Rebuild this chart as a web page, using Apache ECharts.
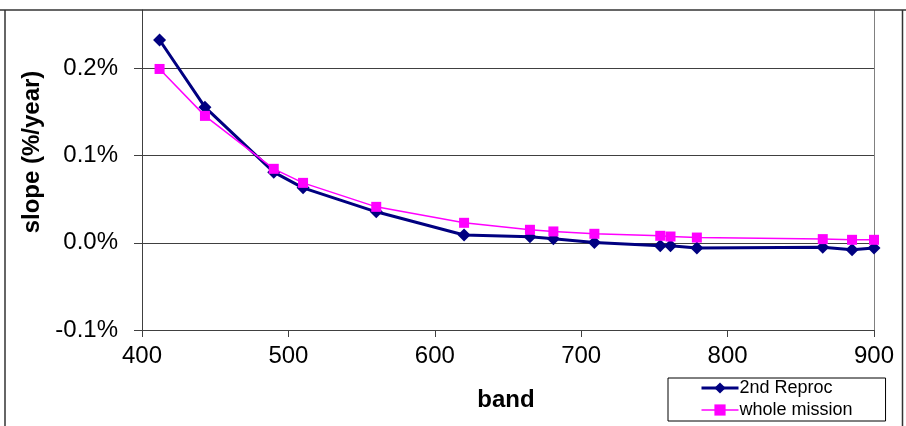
<!DOCTYPE html>
<html>
<head>
<meta charset="utf-8">
<script src="https://cdn.jsdelivr.net/npm/echarts@6/dist/echarts.min.js"></script>
<style>
html, body { margin: 0; padding: 0; background: #fff; }
#chart { width: 906px; height: 426px; }
</style>
</head>
<body>
<div id="chart"></div>
<script>
// MERIS bands (nm)
var bands = [412, 443, 490, 510, 560, 620, 665, 681, 709, 754, 761, 779, 865, 885, 900];
// slope in %/year
var reproc = [0.2325, 0.1555, 0.081, 0.063, 0.0355, 0.009, 0.007, 0.0046, 0.0003, -0.0034, -0.0034, -0.006, -0.005, -0.008, -0.006];
var mission = [0.1993, 0.1455, 0.0848, 0.0687, 0.0412, 0.0229, 0.0149, 0.013, 0.0103, 0.008, 0.0072, 0.006, 0.0042, 0.0034, 0.0034];
var yTicks = [-0.1, 0, 0.1, 0.2];
var xTicks = [400, 500, 600, 700, 800, 900];

function pairs(xs, ys) {
	var out = [];
	for (var i = 0; i < xs.length; i++) {
		out.push([xs[i], ys[i]]);
	}
	return out;
}

var font = '"Liberation Sans", Arial, sans-serif';
var chart = echarts.init(document.getElementById('chart'));

var option = {
	backgroundColor: '#ffffff',
	animation: false,
	textStyle: { fontFamily: font },
	grid: { left: 142, right: 32, top: 10, bottom: 96 },
	legend: {
		orient: 'vertical',
		left: 668,
		top: 378,
		padding: [1, 33, 2, 32],
		itemGap: 4,
		itemWidth: 37,
		itemHeight: 14,
		borderColor: '#000',
		borderWidth: 1,
		textStyle: { fontFamily: font, fontSize: 18, color: '#000', padding: [0, 0, 0, -4] },
		data: [
			{ name: '2nd Reproc', lineStyle: { width: 3 } },
			{ name: 'whole mission', lineStyle: { width: 1.5 } }
		]
	},
	xAxis: {
		type: 'value',
		min: 400,
		max: 900,
		interval: 100,
		axisLine: { onZero: false, lineStyle: { color: '#404040', width: 1 } },
		axisTick: { show: true, length: 7, lineStyle: { color: '#404040' } },
		axisLabel: { color: '#000', fontSize: 24, fontFamily: font, margin: 14, customValues: xTicks },
		splitLine: { show: false }
	},
	yAxis: {
		type: 'value',
		min: -0.1,
		max: 0.2669,
		interval: 0.1,
		axisLine: { show: true, onZero: false, lineStyle: { color: '#404040', width: 1 } },
		axisTick: { show: true, length: 8, lineStyle: { color: '#404040' }, customValues: yTicks },
		axisLabel: {
			color: '#000', fontSize: 24, fontFamily: font, margin: 24,
			customValues: yTicks,
			formatter: function (v) {
				if (Math.abs(v) < 1e-9) v = 0;
				return v.toFixed(1) + '%';
			}
		},
		splitLine: { show: true, lineStyle: { color: '#404040', width: 1 } }
	},
	graphic: [
		{ type: 'line', shape: { x1: 0, y1: 10, x2: 906, y2: 10 }, style: { stroke: '#333', lineWidth: 1.5 }, z: 100 },
		{ type: 'line', shape: { x1: 5, y1: 10, x2: 5, y2: 426 }, style: { stroke: '#333', lineWidth: 1.5 }, z: 100 },
		{ type: 'line', shape: { x1: 902.5, y1: 10, x2: 902.5, y2: 426 }, style: { stroke: '#333', lineWidth: 1.5 }, z: 100 },
		{ type: 'line', shape: { x1: 874.5, y1: 10, x2: 874.5, y2: 330 }, style: { stroke: '#808080', lineWidth: 1 }, z: 0 },
		{
			type: 'text', x: 32, y: 152, rotation: Math.PI / 2,
			style: { text: 'slope (%/year)', fontFamily: font, fontSize: 24, fontWeight: 'bold', fill: '#000', align: 'center', verticalAlign: 'middle' }
		},
		{
			type: 'text', x: 506, y: 400,
			style: { text: 'band', fontFamily: font, fontSize: 24, fontWeight: 'bold', fill: '#000', align: 'center', verticalAlign: 'middle' }
		}
	],
	series: [
		{
			name: '2nd Reproc',
			type: 'line',
			data: pairs(bands, reproc),
			symbol: 'diamond',
			symbolSize: 13,
			showAllSymbol: true,
			lineStyle: { color: '#000080', width: 3 },
			itemStyle: { color: '#000080' },
			z: 3
		},
		{
			name: 'whole mission',
			type: 'line',
			data: pairs(bands, mission),
			symbol: 'rect',
			symbolSize: 10,
			showAllSymbol: true,
			lineStyle: { color: '#ff00ff', width: 1.5 },
			itemStyle: { color: '#ff00ff' },
			z: 4
		}
	]
};

chart.setOption(option);
</script>
</body>
</html>
